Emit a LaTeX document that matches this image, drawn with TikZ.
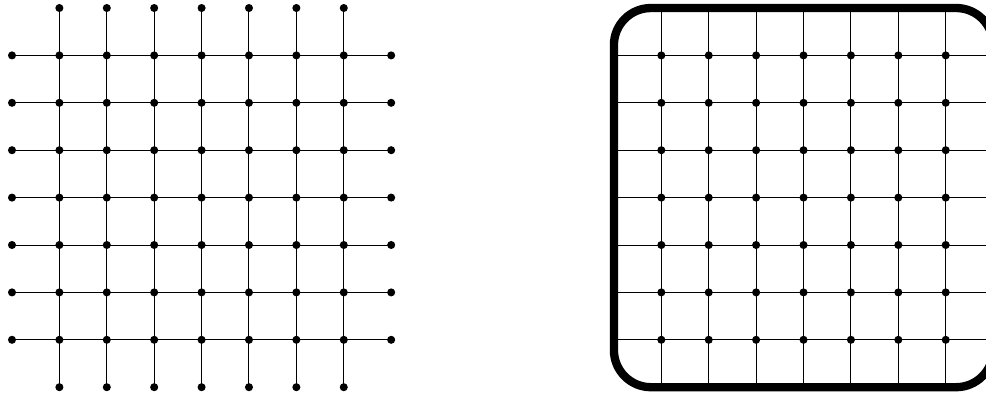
\documentclass[tikz,border=0pt]{standalone}
\begin{document}
\begin{tikzpicture}[x=1cm,y=1cm,
  gridline/.style={line width=0.6pt,black},
  dot/.style={circle,fill=black,inner sep=0pt,minimum size=0.17cm},
  frame/.style={line width=5pt,rounded corners=0.78cm,black}]
\useasboundingbox (-0.253,-0.143) rectangle (20.55,8.169);
% left grid
\foreach \i in {0,...,8}{
  \foreach \j in {0,...,8}{
    \coordinate (L-\i-\j) at (\i,8-\j);
    \coordinate (R-\i-\j) at (12.7+\i,8-\j);
  }
}
\foreach \k in {1,...,7}{
  \draw[gridline] (L-0-\k) -- (L-8-\k);
  \draw[gridline] (L-\k-0) -- (L-\k-8);
  \draw[gridline] (R-0-\k) -- (R-8-\k);
  \draw[gridline] (R-\k-0) -- (R-\k-8);
}
\foreach \i in {0,...,8}{
  \foreach \j in {0,...,8}{
    \pgfmathtruncatemacro{\corner}{(\i==0 || \i==8) && (\j==0 || \j==8) ? 1 : 0}
    \ifnum\corner=0
      \node[dot] (LD-\i-\j) at (L-\i-\j) {};
    \fi
  }
}
\foreach \i in {1,...,7}{
  \foreach \j in {1,...,7}{
    \node[dot] (RD-\i-\j) at (R-\i-\j) {};
  }
}
\draw[frame] (R-0-0) rectangle (R-8-8);
\end{tikzpicture}
\end{document}
